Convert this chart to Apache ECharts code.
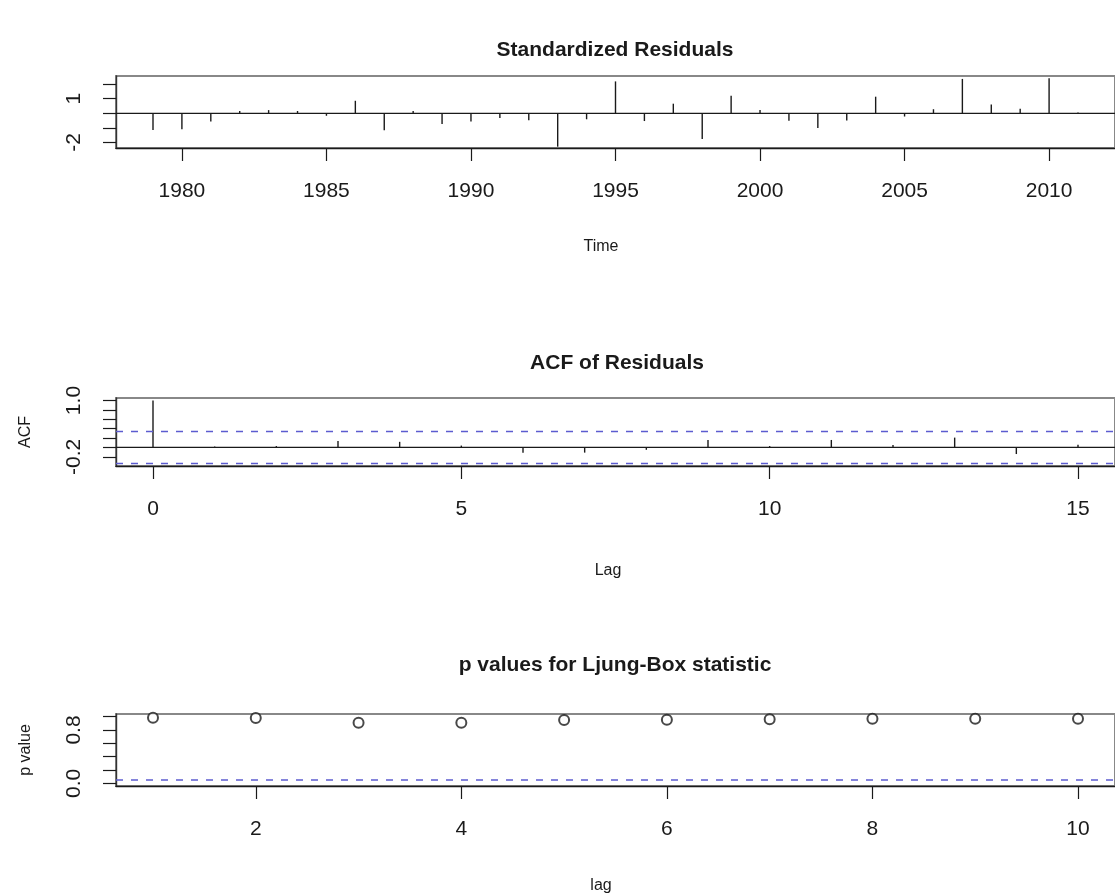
<!DOCTYPE html>
<html>
<head>
<meta charset="utf-8">
<script src="https://cdn.jsdelivr.net/npm/echarts@6/dist/echarts.min.js"></script>
<style>
  html, body { margin: 0; padding: 0; background: #fff; }
  #main { width: 1115px; height: 894px; }
</style>
</head>
<body>
<div id="main"></div>
<script>
// standardized residuals, one per year
const years = [1979, 1980, 1981, 1982, 1983, 1984, 1985, 1986, 1987, 1988, 1989,
  1990, 1991, 1992, 1993, 1994, 1995, 1996, 1997, 1998, 1999, 2000,
  2001, 2002, 2003, 2004, 2005, 2006, 2007, 2008, 2009, 2010, 2011];
const stdResid = [-1.14, -1.10, -0.56, 0.16, 0.22, 0.16, -0.17, 0.86, -1.16, 0.16, -0.74,
  -0.56, -0.32, -0.47, -2.29, -0.41, 2.19, -0.53, 0.66, -1.76, 1.2, 0.22,
  -0.51, -1.0, -0.5, 1.14, -0.22, 0.28, 2.36, 0.61, 0.31, 2.4, 0.05];
const yearTicks = [1980, 1985, 1990, 1995, 2000, 2005, 2010];

// ACF of residuals
const lags = [0, 1, 2, 3, 4, 5, 6, 7, 8, 9, 10, 11, 12, 13, 14, 15];
const acfVals = [1.0, 0.02, 0.03, 0.14, 0.12, 0.04, -0.11, -0.11, -0.05, 0.16, 0.03, 0.16, 0.05, 0.21, -0.14, 0.06];
const acfBound = 0.341;
const lagTicks = [0, 5, 10, 15];

// Ljung-Box p values
const lbLags = [1, 2, 3, 4, 5, 6, 7, 8, 9, 10];
const pValues = [0.985, 0.98, 0.91, 0.91, 0.95, 0.955, 0.96, 0.97, 0.97, 0.97];
const pTicks = [2, 4, 6, 8, 10];
const pLevel = 0.05;

const ink = '#1a1a1a';
const blue = '#5c5cd0';
const font = 'Liberation Sans, Arial, Helvetica, sans-serif';

const chart = echarts.init(document.getElementById('main'));

const xr1 = [1977.72, 2012.28], xr2 = [-0.6, 15.6], xr3 = [0.64, 10.36];

function xAxisOf(idx, range, ticks) {
  return {
    type: 'value', gridIndex: idx, min: range[0], max: range[1],
    axisLine: { show: true, onZero: false, lineStyle: { color: ink, width: 1.4 } },
    axisTick: { show: true, length: 13, customValues: ticks, lineStyle: { color: ink, width: 1.2 } },
    axisLabel: { customValues: ticks, margin: 33, fontSize: 21, color: ink, fontFamily: font,
      formatter: v => String(v) },
    splitLine: { show: false }
  };
}

function yAxisOf(idx, range, ticks, labels, name, fmt) {
  return {
    type: 'value', gridIndex: idx, min: range[0], max: range[1],
    name: name, nameLocation: 'middle', nameGap: 82, nameRotate: 90,
    nameTextStyle: { fontSize: 16, color: ink, fontFamily: font },
    axisLine: { show: true, onZero: false, lineStyle: { color: '#333', width: 1.4 } },
    axisTick: { show: true, length: 13, customValues: ticks, lineStyle: { color: ink, width: 1.2 } },
    axisLabel: { customValues: labels, rotate: 90, margin: 31, fontSize: 21, color: ink, fontFamily: font,
      formatter: fmt },
    splitLine: { show: false }
  };
}

function spikeSeries(idx, xs, ys) {
  return {
    type: 'custom', xAxisIndex: idx, yAxisIndex: idx,
    data: xs.map((x, i) => [x, ys[i]]),
    renderItem: (params, api) => {
      const p0 = api.coord([api.value(0), 0]);
      const p1 = api.coord([api.value(0), api.value(1)]);
      return { type: 'line', shape: { x1: p0[0], y1: p0[1], x2: p1[0], y2: p1[1] },
        style: { stroke: ink, lineWidth: 1.4 } };
    },
    silent: true
  };
}

function hLine(idx, range, y, color, dashed) {
  return {
    type: 'line', xAxisIndex: idx, yAxisIndex: idx,
    data: [[range[0], y], [range[1], y]],
    symbol: 'none', silent: true,
    lineStyle: { color: color, width: dashed ? 1.6 : 1.2, type: dashed ? [7, 8] : 'solid' }
  };
}

function heading(text, x, y, size, bold) {
  return { text: text, left: x, top: y, textAlign: 'center',
    textStyle: { fontSize: size, fontWeight: bold ? 'bold' : 'normal', color: ink, fontFamily: font } };
}

// R draws a box round each plot region; the top edge reads grey in the picture
const gridBox = { show: true, borderColor: '#888', borderWidth: 2, backgroundColor: 'transparent' };

chart.setOption({
  animation: false,
  backgroundColor: '#fff',
  title: [
    heading('Standardized Residuals', 610, 35, 21, true),
    heading('ACF of Residuals', 612, 348, 21, true),
    heading('p values for Ljung-Box statistic', 610, 650, 21, true),
    heading('Time', 596, 234, 16, false),
    heading('Lag', 603, 558, 16, false),
    heading('lag', 596, 873, 16, false)
  ],
  grid: [
    Object.assign({ left: 116, top: 76, width: 1006, height: 72 }, gridBox),
    Object.assign({ left: 116, top: 398, width: 1004, height: 68 }, gridBox),
    Object.assign({ left: 116, top: 714, width: 1004, height: 72 }, gridBox)
  ],
  xAxis: [
    xAxisOf(0, xr1, yearTicks),
    xAxisOf(1, xr2, lagTicks),
    xAxisOf(2, xr3, pTicks)
  ],
  yAxis: [
    yAxisOf(0, [-2.38, 2.56], [-2, -1, 0, 1, 2], [-2, 1], '', v => String(v)),
    yAxisOf(1, [-0.395, 1.054], [-0.2, 0, 0.2, 0.4, 0.6, 0.8, 1.0], [-0.2, 1.0], 'ACF', v => v.toFixed(1)),
    yAxisOf(2, [-0.04, 1.04], [0, 0.2, 0.4, 0.6, 0.8, 1.0], [0, 0.8], 'p value', v => v.toFixed(1))
  ],
  series: [
    hLine(0, xr1, 0, ink, false),
    spikeSeries(0, years, stdResid),
    hLine(1, xr2, 0, ink, false),
    hLine(1, xr2, acfBound, blue, true),
    hLine(1, xr2, -acfBound, blue, true),
    spikeSeries(1, lags, acfVals),
    hLine(2, xr3, pLevel, blue, true),
    {
      type: 'scatter', xAxisIndex: 2, yAxisIndex: 2,
      data: lbLags.map((l, i) => [l, pValues[i]]),
      symbol: 'emptyCircle', symbolSize: 10,
      itemStyle: { color: ink, borderColor: ink, borderWidth: 1.5 },
      silent: true
    }
  ]
});
</script>
</body>
</html>
